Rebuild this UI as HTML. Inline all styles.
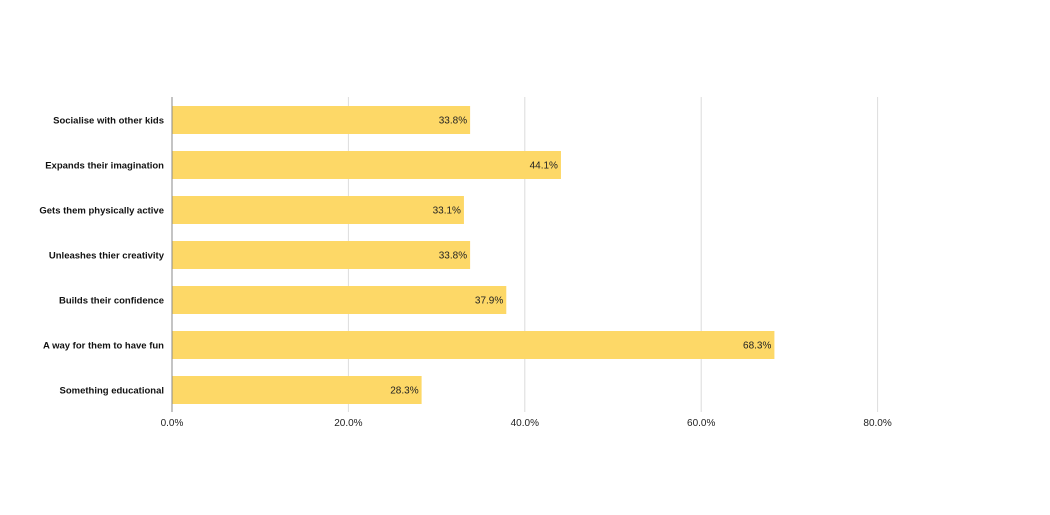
<!DOCTYPE html>
<html><head><meta charset="utf-8"><style>
body{margin:0;background:#fff;width:1050px;height:510px;overflow:hidden}
text{font-family:"Liberation Sans",Arial,sans-serif}
</style></head><body>
<svg id="chart" width="1050" height="510" xmlns="http://www.w3.org/2000/svg"></svg>
<script>
const categories=["Socialise with other kids","Expands their imagination","Gets them physically active","Unleashes thier creativity","Builds their confidence","A way for them to have fun","Something educational"];
const values=[33.8,44.1,33.1,33.8,37.9,68.3,28.3];
const ticks=[0,20,40,60,80];
const svg=document.getElementById('chart');
const NS='http://www.w3.org/2000/svg';
const x0=172,pxPer=8.82,top0=106,step=45,bh=28;
const xs=v=>x0+v*pxPer;
function mk(t,a){const e=document.createElementNS(NS,t);for(const k in a)e.setAttribute(k,a[k]);svg.appendChild(e);return e;}
ticks.forEach(t=>{
 if(t>0){const g=mk('line',{x1:xs(t),x2:xs(t),y1:97,y2:412,stroke:'#dcdcdc','stroke-width':1});
 
 }
 const l=mk('text',{x:xs(t),y:426,'text-anchor':'middle','font-size':10,fill:'#222'});
 
 
 l.textContent=t.toFixed(1)+'%';
});
categories.forEach((c,i)=>{
 const y=top0+i*step;
 const b=mk('rect',{x:x0,y:y,width:xs(values[i])-x0,height:bh,fill:'#fdd867'});
 
 
 const v=mk('text',{x:xs(values[i])-3,y:y+bh/2+3.5,'text-anchor':'end','font-size':10,fill:'#222'});
 
 
 v.textContent=values[i].toFixed(1)+'%';
 const l=mk('text',{x:164,y:y+bh/2+3.5,'text-anchor':'end','font-size':9.5,'font-weight':'bold',fill:'#111'});
 
 
 l.textContent=c;
});
const ax=mk('line',{x1:x0,x2:x0,y1:97,y2:412,stroke:'#888','stroke-width':1});


</script>
</body></html>
